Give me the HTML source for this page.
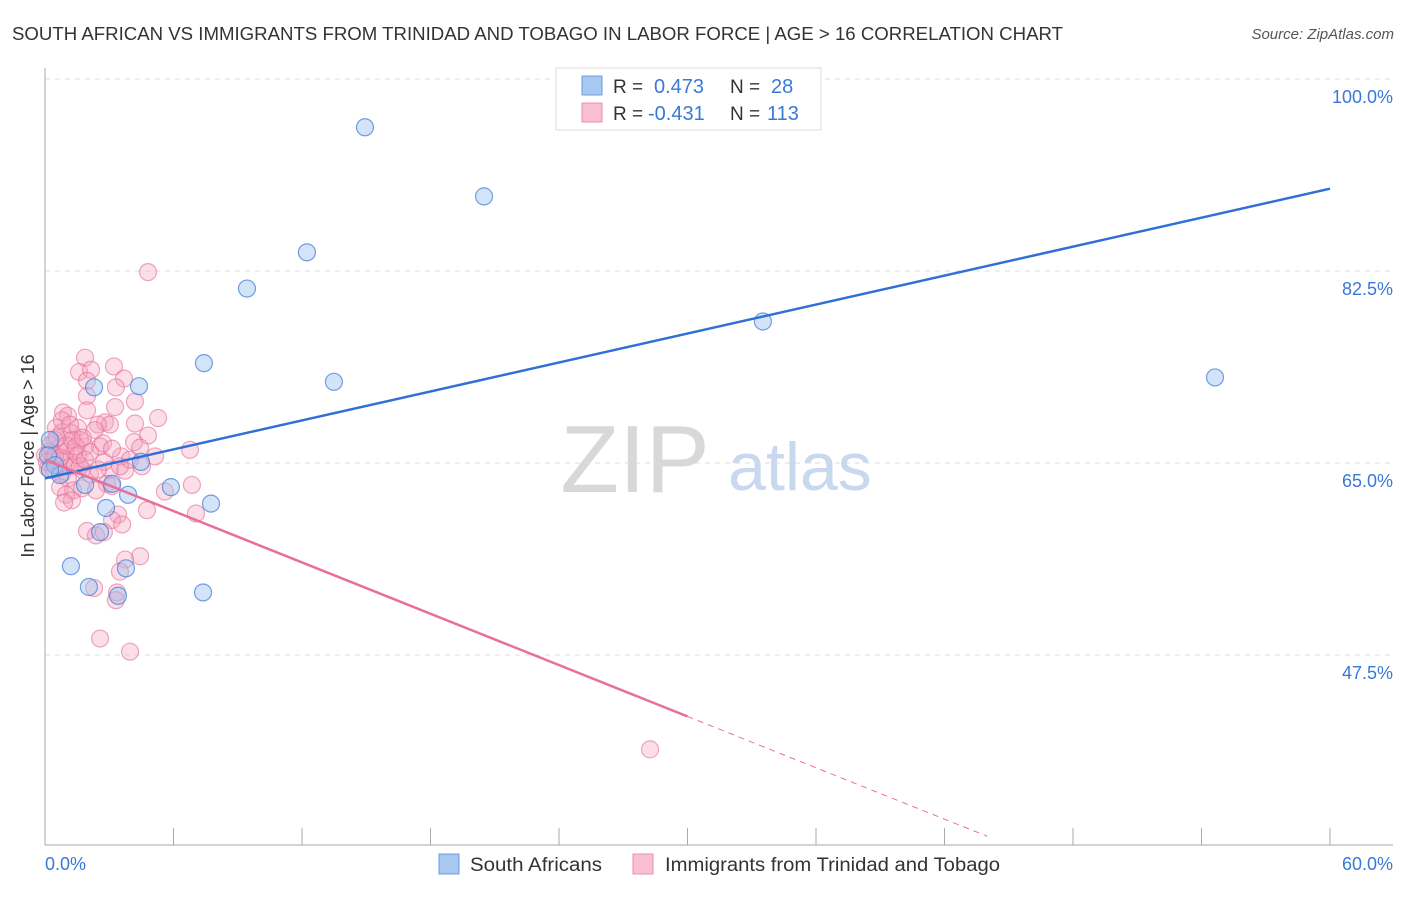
<!DOCTYPE html>
<html><head><meta charset="utf-8"><style>
body{margin:0;background:#fff;font-family:"Liberation Sans",sans-serif;}
svg text{font-family:"Liberation Sans",sans-serif;}
</style></head><body>
<svg id="chart" width="1406" height="892">
<text x="12" y="40" font-size="18" fill="#333" textLength="1051" lengthAdjust="spacingAndGlyphs">SOUTH AFRICAN VS IMMIGRANTS FROM TRINIDAD AND TOBAGO IN LABOR FORCE | AGE &gt; 16 CORRELATION CHART</text>
<text x="1394" y="39" font-size="15" fill="#555" font-style="italic" text-anchor="end">Source: ZipAtlas.com</text>
<text x="635" y="492" font-size="96" fill="#d8d8d8" font-family="Liberation Serif" text-anchor="middle">ZIP</text>
<text x="800" y="490" font-size="68" fill="#c8d8ee" text-anchor="middle">atlas</text>
<g id="grid"></g><g id="axes"></g><g id="pts"></g><g id="lines"></g>
<text transform="translate(34,456) rotate(-90)" font-size="18" fill="#333" text-anchor="middle">In Labor Force | Age &gt; 16</text>
<g>
<rect x="556" y="68" width="265" height="62" fill="#fff" stroke="#ddd"/>
<rect x="582" y="76" width="20" height="19" fill="#a8c8f0" stroke="#6a9ee0"/>
<rect x="582" y="103" width="20" height="19" fill="#f8c0d0" stroke="#e890ac"/>
<text x="613" y="93" font-size="19" fill="#333">R = </text><text x="654" y="93" font-size="20" fill="#3a78d8">0.473</text>
<text x="730" y="93" font-size="19" fill="#333">N = </text><text x="771" y="93" font-size="20" fill="#3a78d8">28</text>
<text x="613" y="120" font-size="19" fill="#333">R = </text><text x="648" y="120" font-size="20" fill="#3a78d8">-0.431</text>
<text x="730" y="120" font-size="19" fill="#333">N = </text><text x="767" y="120" font-size="20" fill="#3a78d8">113</text>
</g>
<g>
<rect x="439" y="854" width="20" height="20" fill="#a8c8f0" stroke="#6a9ee0"/>
<text x="470" y="871" font-size="19" fill="#333" textLength="132" lengthAdjust="spacingAndGlyphs">South Africans</text>
<rect x="633" y="854" width="20" height="20" fill="#f8c0d0" stroke="#e890ac"/>
<text x="665" y="871" font-size="19" fill="#333" textLength="335" lengthAdjust="spacingAndGlyphs">Immigrants from Trinidad and Tobago</text>
</g>
</svg>
<script>
const yTicks=[100,82.5,65,47.5];
const yTickLabels=["100.0%","82.5%","65.0%","47.5%"];
const xTicks=[0,6,12,18,24,30,36,42,48,54,60];
const blueX=[14.94,20.5,12.23,9.43,33.52,7.42,13.49,54.63,4.39,2.29,4.48,5.88,3.88,7.75,2.85,2.57,1.21,3.78,2.05,3.41,7.38,0.23,0.14,0.47,0.7,1.87,3.13,0.23];
const blueY=[95.6,89.3,84.2,80.9,77.9,74.1,72.4,72.8,72.0,71.9,65.1,62.8,62.1,61.3,60.9,58.7,55.6,55.4,53.7,52.9,53.2,67.1,65.7,64.8,63.9,63.0,63.1,64.4];
const pinkX=[4.81,1.87,3.22,1.59,2.15,3.69,3.31,1.96,1.96,4.2,3.27,0.84,1.96,5.28,1.07,2.8,4.2,3.03,2.47,1.54,1.26,0.51,0.79,4.81,1.63,4.16,1.87,2.57,6.77,5.14,3.55,0.47,0.7,0.23,0.98,1.35,0.33,0.61,0.93,1.17,1.4,1.73,0.14,0.42,0.79,1.07,1.63,3.03,3.74,2.1,2.89,0.7,1.31,1.73,5.6,2.38,3.13,6.86,0.98,1.26,0.89,4.76,7.05,3.41,3.13,3.6,1.96,2.38,2.75,4.44,3.74,3.5,3.36,3.31,2.29,2.57,3.97,28.25,0.23,0,0.09,0.47,0.7,0.98,1.26,1.54,1.87,2.1,0.56,0.79,1.17,1.45,1.77,2.33,2.71,3.13,3.5,3.97,4.44,4.53,2.75,2.47];
const pinkY=[82.4,74.6,73.8,73.3,73.5,72.7,71.9,72.5,71.1,70.6,70.1,69.6,69.8,69.1,69.3,68.7,68.6,68.5,68.5,68.2,67.7,68.2,67.8,67.5,67.1,66.9,66.5,66.5,66.2,65.6,65.6,67.1,66.5,66.0,66.0,66.0,65.3,64.8,65.3,64.7,64.8,64.4,64.5,64.4,64.0,63.6,64.7,64.4,64.3,64.0,63.1,62.8,62.5,62.7,62.4,62.5,62.9,63.0,62.1,61.6,61.4,60.7,60.4,60.3,59.8,59.4,58.8,58.4,58.7,56.5,56.2,55.1,53.2,52.5,53.6,49.0,47.8,38.9,66.6,65.7,65.1,65.7,65.5,66.6,67.1,65.7,65.3,66.0,67.3,68.9,68.5,66.5,67.3,68.0,66.8,66.3,64.7,65.3,66.4,64.7,65.1,64.4];
const blueLine=[63.6,0.44]; // intercept, slope
const pinkLine=[65.3,-0.78];
const X=v=>45+v/60*1285;
const Y=v=>79+(100-v)*192/17.5;
const NS="http://www.w3.org/2000/svg";
function mk(p,t,a){const e=document.createElementNS(NS,t);for(const k in a)e.setAttribute(k,a[k]);document.getElementById(p).appendChild(e);return e;}
yTicks.forEach((t,i)=>{
 const g=mk('grid','line',{x1:45,x2:1393,y1:Y(t),y2:Y(t),stroke:'#ddd','stroke-dasharray':'5,5'});
 
 
 const l=mk('axes','text',{x:1393,y:Y(t)+24,'font-size':18,fill:'#3a78d8','text-anchor':'end'});
 l.textContent=yTickLabels[i];
 
 
});
let a=mk('axes','line',{x1:45,x2:45,y1:68,y2:845,stroke:'#aaa'});


a=mk('axes','line',{x1:45,x2:1393,y1:845,y2:845,stroke:'#aaa'});


xTicks.forEach(t=>{const e=mk('axes','line',{x1:X(t),x2:X(t),y1:828,y2:845,stroke:'#aaa'});
 
 });
let t0=mk('axes','text',{x:45,y:870,'font-size':18,fill:'#3a78d8'});t0.textContent='0.0%';


t0=mk('axes','text',{x:1393,y:870,'font-size':18,fill:'#3a78d8','text-anchor':'end'});t0.textContent='60.0%';


pinkX.forEach((x,i)=>{const c=mk('pts','circle',{cx:X(x),cy:Y(pinkY[i]),r:8.5,fill:'rgba(244,160,188,0.35)',stroke:'rgba(230,110,150,0.6)','stroke-width':1.2});
 
 });
blueX.forEach((x,i)=>{const c=mk('pts','circle',{cx:X(x),cy:Y(blueY[i]),r:8.5,fill:'rgba(160,195,240,0.45)',stroke:'rgba(70,130,220,0.75)','stroke-width':1.2});
 
 });
let ln=mk('lines','line',{x1:X(0),y1:Y(blueLine[0]),x2:X(60),y2:Y(blueLine[0]+blueLine[1]*60),stroke:'#2f6fd6','stroke-width':2.5});


ln=mk('lines','line',{x1:X(0),y1:Y(pinkLine[0]),x2:X(30),y2:Y(pinkLine[0]+pinkLine[1]*30),stroke:'#e8709a','stroke-width':2.5});


ln=mk('lines','line',{x1:X(30),y1:Y(pinkLine[0]+pinkLine[1]*30),x2:X(44),y2:Y(pinkLine[0]+pinkLine[1]*44),stroke:'#e8709a','stroke-width':1,'stroke-dasharray':'6,5'});


</script>
</body></html>
